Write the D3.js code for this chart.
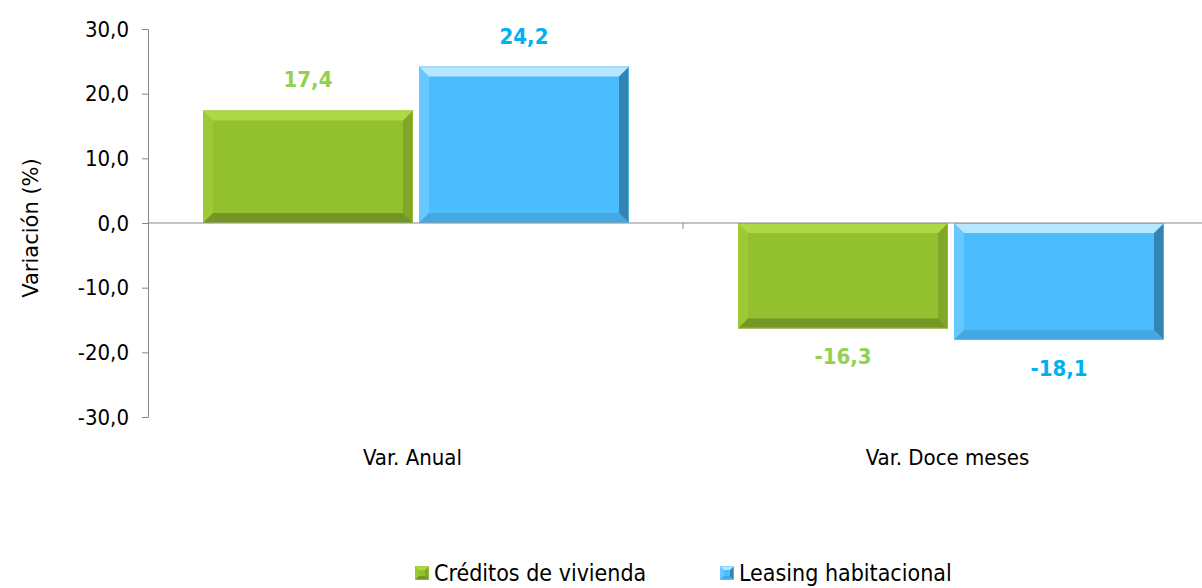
<!DOCTYPE html>
<html>
<head>
<meta charset="utf-8">
<script src="https://cdn.jsdelivr.net/npm/d3@7"></script>
<style>
  body { margin:0; background:#fff; }
  svg { display:block; }
  text { font-family: "DejaVu Sans Condensed", "Liberation Sans Narrow", "Liberation Sans", sans-serif; fill:#000; }
</style>
</head>
<body>
<svg id="svg1"></svg>
<script>
var W = 1202, H = 588;

var categories = ["Var. Anual", "Var. Doce meses"];
var series = ["Créditos de vivienda", "Leasing habitacional"];
var creditos = [17.4, -16.3];
var leasing = [24.2, -18.1];
var yTicks = [30, 20, 10, 0, -10, -20, -30];

var colors = {
  "Créditos de vivienda": {main:"#93c02e", top:"#b4dc4a", bottom:"#6e8e22", left:"#a0ca38", right:"#7ca226", label:"#92d050"},
  "Leasing habitacional": {main:"#4bbcfd", top:"#c9efff", bottom:"#44a6dc", left:"#6ccaff", right:"#2f7aa6", label:"#00b0f0"}
};

function fmt(v){ return d3.format(".1f")(Math.abs(v)).replace(".", ",").replace(/^/, v < 0 ? "-" : ""); }

window.onload = function(){
  var svg1 = d3.select('#svg1').attr('width', W).attr('height', H);

  var y = d3.scaleLinear().domain([-30, 30]).range([417, 29]);
  var x0 = d3.scaleBand().domain(categories).range([148, 1218]);
  var x1 = d3.scaleBand().domain(series).range([55, 481]).paddingInner(0.028);

  var data = [];
  categories.forEach(function(c, i){
    data.push({cat:c, s:series[0], v:creditos[i]});
    data.push({cat:c, s:series[1], v:leasing[i]});
  });

  // y axis
  var yAxis = d3.axisLeft(y).tickValues(yTicks).tickSize(6).tickPadding(13).tickFormat(fmt);
  var gy = svg1.append('g').attr('transform', 'translate(148,0)').call(yAxis);
  gy.select('.domain').attr('stroke', '#888');
  gy.selectAll('.tick line').attr('stroke', '#888');
  gy.selectAll('.tick text').style('font-size', '22px').attr('fill', '#000');

  // bars
  render(svg1, data, x0, x1, y);

  // zero line + category ticks
  svg1.append('line').attr('x1', 148).attr('x2', W).attr('y1', y(0)).attr('y2', y(0))
    .attr('stroke', '#888').attr('stroke-width', 1);
  svg1.append('line').attr('x1', x0(categories[1])).attr('x2', x0(categories[1]))
    .attr('y1', y(0)).attr('y2', y(0) + 6).attr('stroke', '#888');

  // category labels
  svg1.selectAll('text.cat').data(categories).enter().append('text')
    .attr('class', 'cat')
    .attr('x', function(d){ return x0(d) + x0.bandwidth()/2 - 3; })
    .attr('y', 465)
    .attr('text-anchor', 'middle')
    .style('font-size', '22px')
    .text(function(d){ return d; });

  // value labels
  svg1.selectAll('text.val').data(data).enter().append('text')
    .attr('class', 'val')
    .attr('x', function(d){ return x0(d.cat) + x1(d.s) + x1.bandwidth()/2; })
    .attr('y', function(d){ return d.v >= 0 ? y(d.v) - 23 : y(d.v) + 36; })
    .attr('text-anchor', 'middle')
    .style('font-size', '22px').style('font-weight', 'bold')
    .style('fill', function(d){ return colors[d.s].label; })
    .text(function(d){ return fmt(d.v); });

  // y title
  svg1.append('text')
    .attr('transform', 'translate(38,228) rotate(-90)')
    .attr('text-anchor', 'middle')
    .style('font-family', '"DejaVu Sans", sans-serif')
    .style('font-size', '21px')
    .text('Variación (%)');

  // legend
  var legX = [415, 720];
  var lg = svg1.selectAll('g.leg').data(series).enter().append('g')
    .attr('class', 'leg')
    .attr('transform', function(d, i){ return 'translate(' + legX[i] + ',566)'; });
  lg.each(function(d){
    bevelBox(d3.select(this), 0, 0, 14, 14, colors[d], 4);
  });
  lg.append('text').attr('x', 19).attr('y', 15)
    .style('font-size', '23px')
    .text(function(d){ return d; });
};

function render(svg1, data, x0, x1, y){
  var g = svg1.append('g');
  data.forEach(function(d){
    var bx = x0(d.cat) + x1(d.s);
    var bw = x1.bandwidth();
    var by = Math.min(y(d.v), y(0));
    var bh = Math.abs(y(d.v) - y(0));
    bevelBox(g, bx, by, bw, bh, colors[d.s], 10);
  });
}

function bevelBox(g, x, y, w, h, c, b){
  var box = g.append('g');
  box.append('rect').attr('x', x).attr('y', y).attr('width', w).attr('height', h).attr('fill', c.main);
  var pts = {
    top: [[x,y],[x+w,y],[x+w-b,y+b],[x+b,y+b]],
    bottom: [[x,y+h],[x+w,y+h],[x+w-b,y+h-b],[x+b,y+h-b]],
    left: [[x,y],[x+b,y+b],[x+b,y+h-b],[x,y+h]],
    right: [[x+w,y],[x+w-b,y+b],[x+w-b,y+h-b],[x+w,y+h]]
  };
  ['left','right','top','bottom'].forEach(function(k){
    box.append('polygon')
      .attr('points', pts[k].map(function(p){ return p.join(','); }).join(' '))
      .attr('fill', c[k]).attr('opacity', 0.85);
  });
  box.append('rect').attr('x', x+0.5).attr('y', y+0.5).attr('width', w-1).attr('height', h-1)
    .attr('fill', 'none').attr('stroke', c.left).attr('stroke-width', 1).attr('opacity', 0.6);
}
</script>
</body>
</html>
